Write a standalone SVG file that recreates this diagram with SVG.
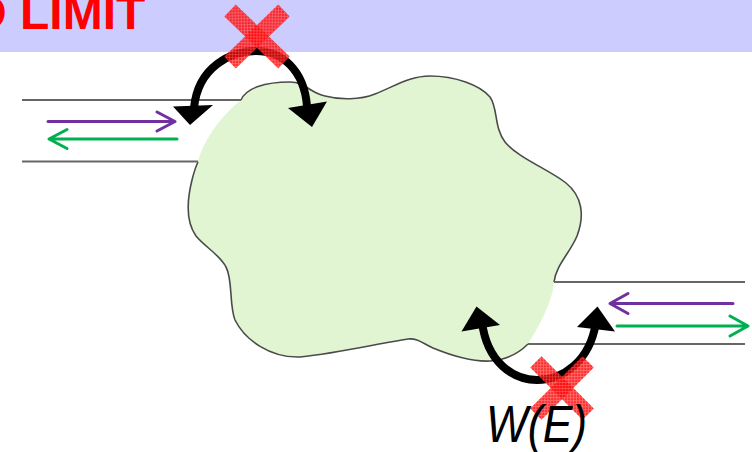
<svg xmlns="http://www.w3.org/2000/svg" width="752" height="452" viewBox="0 0 752 452">
  <style>
    .wire { stroke: #666666; stroke-width: 2; fill: none; }
    .edge { stroke: #4a4a4a; stroke-width: 1.6; fill: none; }
    .purple { stroke: #7030A0; stroke-width: 3; fill: none; stroke-linecap: round; stroke-linejoin: round; }
    .green { stroke: #00B050; stroke-width: 3; fill: none; stroke-linecap: round; stroke-linejoin: round; }
    .arc { stroke: #000000; stroke-width: 8; fill: none; }
    .head { fill: #000000; }
    .cross { fill: url(#hatch); opacity: 0.82; }
  </style>
  <defs>
    <pattern id="hatch" width="3" height="3" patternUnits="userSpaceOnUse" patternTransform="rotate(45)">
      <rect width="3" height="3" fill="#ff0000"/>
      <path d="M0,0.5H3M0.5,0V3" stroke="#ff5a5a" stroke-width="0.7"/>
    </pattern>
  </defs>

  <!-- title band -->
  <g id="banner">
    <rect x="0" y="0" width="752" height="52" fill="#CCCCFF"/>
    <text x="-28" y="29" font-family="'Liberation Sans', Arial, sans-serif" font-weight="bold" font-size="48" fill="#FF0000">D LIMIT</text>
  </g>

  <!-- scattering region -->
  <g id="region">
    <path fill="#E1F5D3" d="M241,100 C246,88 265,82 290,82 C305,82 310,93 325,96 C340,100 360,100 375,94 C395,86 410,76 430,76 C455,76 480,85 490,97 C498,108 494,128 505,142 C518,158 550,170 566,183 C582,196 585,215 577,236 C570,253 556,265 554,282 C553,300 540,325 528,344 C518,354 505,360 490,361 C470,362 450,355 433,348 C422,343 418,338 408,339 C380,343 340,353 300,357 C270,358 245,340 235,320 C229,305 233,280 226,267 C220,255 205,247 196,236 C186,222 187,200 192,180 C194,172 196,166 198,162 C203,140 222,115 241,100 Z"/>
    <path class="edge" d="M241,100 C246,88 265,82 290,82 C305,82 310,93 325,96 C340,100 360,100 375,94 C395,86 410,76 430,76 C455,76 480,85 490,97 C498,108 494,128 505,142 C518,158 550,170 566,183 C582,196 585,215 577,236 C570,253 556,265 554,282"/>
    <path class="edge" d="M528,344 C518,354 505,360 490,361 C470,362 450,355 433,348 C422,343 418,338 408,339 C380,343 340,353 300,357 C270,358 245,340 235,320 C229,305 233,280 226,267 C220,255 205,247 196,236 C186,222 187,200 192,180 C194,172 196,166 198,162"/>
  </g>

  <!-- leads -->
  <g id="lead-left">
    <line class="wire" x1="22" y1="100" x2="241" y2="100"/>
    <line class="wire" x1="22" y1="161.5" x2="198" y2="161.5"/>
  </g>
  <g id="lead-right">
    <line class="wire" x1="554" y1="282" x2="745" y2="282"/>
    <line class="wire" x1="528" y1="344" x2="745" y2="344"/>
  </g>

  <g id="connectors">
    <!-- incoming / outgoing waves -->
    <path class="purple" d="M48,121.5 H175 M157,112 L175,121.5 L157,131"/>
    <path class="green" d="M177,139 H49 M67,129.5 L49,139 L67,148.5"/>
    <path class="purple" d="M733,303.5 H610 M628,293.5 L610,303.5 L628,313.5"/>
    <path class="green" d="M617,326 H748 M730,316 L748,326 L730,336"/>

    <!-- reflection paths -->
    <path class="arc" d="M194,108 C198,66 232,51 256,51 C282,51 304,70 307,106"/>
    <polygon class="head" points="173,106.5 213,105 190,125"/>
    <polygon class="head" points="288,108 327,101.5 312,127"/>

    <path class="arc" d="M482,322 C487,362 513,380 537,380 C562,380 590,362 596,322"/>
    <polygon class="head" points="476.5,306.5 461.5,331.5 500,325"/>
    <polygon class="head" points="597.5,306.5 577,327 615,331.5"/>
  </g>

  <!-- blocked markers -->
  <g id="cross-top">
    <rect class="cross" x="219.5" y="28.25" width="75" height="16.5" transform="rotate(44 257 36.5)"/>
    <rect class="cross" x="219.5" y="28.25" width="75" height="16.5" transform="rotate(-44 257 36.5)"/>
  </g>
  <g id="cross-bottom">
    <rect class="cross" x="525" y="380" width="74" height="16" transform="rotate(45 562 388)"/>
    <rect class="cross" x="525" y="380" width="74" height="16" transform="rotate(-45 562 388)"/>
  </g>

  <g id="label">
    <text x="486" y="442" font-family="'Liberation Sans', Arial, sans-serif" font-style="italic" font-size="51" fill="#000000" textLength="101" lengthAdjust="spacingAndGlyphs">W(E)</text>
  </g>
</svg>
